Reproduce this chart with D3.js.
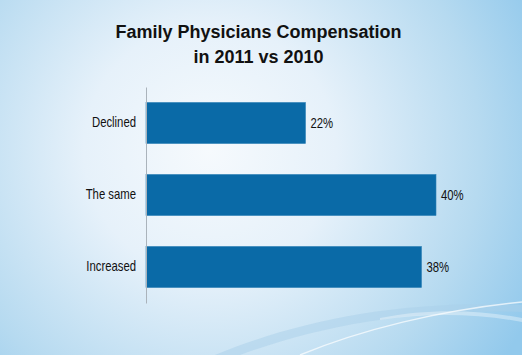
<!DOCTYPE html>
<html><head><meta charset="utf-8">
<script src="https://cdn.jsdelivr.net/npm/d3@7"></script>
<style>html,body{margin:0;padding:0;overflow:hidden;}svg{display:block;}</style>
</head><body>
<svg id="c" width="522" height="355"></svg>
<script>
const categories = ["Declined", "The same", "Increased"];
const values = [22, 40, 38];
const valueLabels = ["22%", "40%", "38%"];
const titleLines = ["Family Physicians Compensation", "in 2011 vs 2010"];

const W = 522, H = 355;
const svg = d3.select("#c");
const defs = svg.append("defs");
const rg = defs.append("radialGradient").attr("id","bg").attr("gradientUnits","userSpaceOnUse")
  .attr("cx",210).attr("cy",150).attr("r",360);
rg.append("stop").attr("offset","0").attr("stop-color","#f6fafd");
rg.append("stop").attr("offset","0.35").attr("stop-color","#e6f1fa");
rg.append("stop").attr("offset","0.75").attr("stop-color","#b6daf0");
rg.append("stop").attr("offset","1").attr("stop-color","#92c9ec");
svg.append("rect").attr("width",W).attr("height",H).attr("fill","url(#bg)");

// decorative swooshes
svg.append("path").attr("d","M215,355 C300,320 400,300 522,305 L522,312 C420,308 320,325 240,355 Z")
  .attr("fill","#a9cfe9").attr("opacity",0.5);
svg.append("path").attr("d","M300,355 C360,330 440,310 522,302")
  .attr("fill","none").attr("stroke","#ffffff").attr("stroke-width",1.5).attr("opacity",0.7);
svg.append("path").attr("d","M380,318 C430,308 480,310 522,318 L522,322 C480,314 430,312 380,320 Z")
  .attr("fill","#ffffff").attr("opacity",0.35);

// title
svg.append("g").selectAll("text").data(titleLines).join("text")
  .attr("x",258.5).attr("y",(d,i)=>38+i*25)
  .attr("text-anchor","middle")
  .attr("font-family","'Liberation Sans', Arial, sans-serif")
  .attr("font-weight","bold").attr("font-size",18).attr("fill","#111")
  .text(d=>d);

const x = d3.scaleLinear().domain([0,40]).range([146,436]);
const y = d3.scaleBand().domain(categories).range([87,303]).paddingInner(0.43).paddingOuter(0.215);

svg.append("g").selectAll("rect").data(values).join("rect")
  .attr("x",x(0)).attr("y",(d,i)=>y(categories[i]))
  .attr("width",d=>x(d)-x(0)).attr("height",y.bandwidth())
  .attr("fill","#0a6aa7").attr("stroke","#2d80b6").attr("stroke-width",0.6);

const font = "'Liberation Sans', Arial, sans-serif";
const sx = 0.81;
const yAxis = d3.axisLeft(y).tickSize(0).tickPadding(10);
const ga = svg.append("g").attr("transform",`translate(${x(0)},0)`).call(yAxis);
ga.select(".domain").attr("stroke","#aab3bb").attr("stroke-width",1);
ga.selectAll("text").attr("font-family",font)
  .attr("font-size",14).attr("fill","#111")
  .attr("x",-10/sx).attr("transform",`scale(${sx},1)`);

svg.append("g").selectAll("text").data(values).join("text")
  .attr("transform",(d,i)=>`translate(${x(d)+5},${y(categories[i])+y.bandwidth()/2}) scale(${sx},1)`)
  .attr("dy","0.35em")
  .attr("font-family",font)
  .attr("font-size",14).attr("fill","#111")
  .text((d,i)=>valueLabels[i]);
</script>
</body></html>
